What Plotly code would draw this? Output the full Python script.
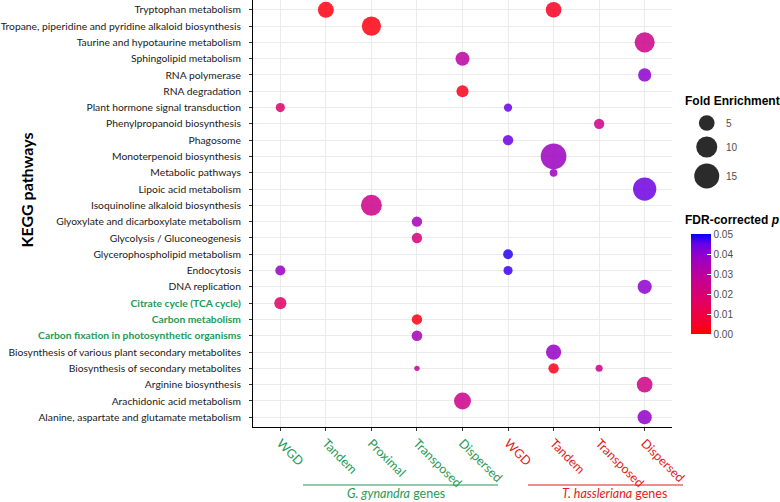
import math
import plotly.graph_objects as go

# ---------------- data ----------------
pathways = [
    "Tryptophan metabolism",
    "Tropane, piperidine and pyridine alkaloid biosynthesis",
    "Taurine and hypotaurine metabolism",
    "Sphingolipid metabolism",
    "RNA polymerase",
    "RNA degradation",
    "Plant hormone signal transduction",
    "Phenylpropanoid biosynthesis",
    "Phagosome",
    "Monoterpenoid biosynthesis",
    "Metabolic pathways",
    "Lipoic acid metabolism",
    "Isoquinoline alkaloid biosynthesis",
    "Glyoxylate and dicarboxylate metabolism",
    "Glycolysis / Gluconeogenesis",
    "Glycerophospholipid metabolism",
    "Endocytosis",
    "DNA replication",
    "Citrate cycle (TCA cycle)",
    "Carbon metabolism",
    "Carbon fixation in photosynthetic organisms",
    "Biosynthesis of various plant secondary metabolites",
    "Biosynthesis of secondary metabolites",
    "Arginine biosynthesis",
    "Arachidonic acid metabolism",
    "Alanine, aspartate and glutamate metabolism",
]
highlighted = ["Citrate cycle (TCA cycle)", "Carbon metabolism",
               "Carbon fixation in photosynthetic organisms"]

groups = ["Gg WGD", "Gg Tandem", "Gg Proximal", "Gg Transposed", "Gg Dispersed",
          "Th WGD", "Th Tandem", "Th Transposed", "Th Dispersed"]
group_labels = ["WGD", "Tandem", "Proximal", "Transposed", "Dispersed",
                "WGD", "Tandem", "Transposed", "Dispersed"]
group_species = ["G", "G", "G", "G", "G", "T", "T", "T", "T"]

point_pathway = [
    "Tryptophan metabolism", "Tryptophan metabolism",
    "Tropane, piperidine and pyridine alkaloid biosynthesis",
    "Taurine and hypotaurine metabolism",
    "Sphingolipid metabolism",
    "RNA polymerase",
    "RNA degradation",
    "Plant hormone signal transduction", "Plant hormone signal transduction",
    "Phenylpropanoid biosynthesis",
    "Phagosome",
    "Monoterpenoid biosynthesis",
    "Metabolic pathways",
    "Lipoic acid metabolism",
    "Isoquinoline alkaloid biosynthesis",
    "Glyoxylate and dicarboxylate metabolism",
    "Glycolysis / Gluconeogenesis",
    "Glycerophospholipid metabolism",
    "Endocytosis", "Endocytosis",
    "DNA replication",
    "Citrate cycle (TCA cycle)",
    "Carbon metabolism",
    "Carbon fixation in photosynthetic organisms",
    "Biosynthesis of various plant secondary metabolites",
    "Biosynthesis of secondary metabolites", "Biosynthesis of secondary metabolites",
    "Biosynthesis of secondary metabolites",
    "Arginine biosynthesis",
    "Arachidonic acid metabolism",
    "Alanine, aspartate and glutamate metabolism",
]
point_group = [
    "Gg Tandem", "Th Tandem",
    "Gg Proximal",
    "Th Dispersed",
    "Gg Dispersed",
    "Th Dispersed",
    "Gg Dispersed",
    "Gg WGD", "Th WGD",
    "Th Transposed",
    "Th WGD",
    "Th Tandem",
    "Th Tandem",
    "Th Dispersed",
    "Gg Proximal",
    "Gg Transposed",
    "Gg Transposed",
    "Th WGD",
    "Gg WGD", "Th WGD",
    "Th Dispersed",
    "Gg WGD",
    "Gg Transposed",
    "Gg Transposed",
    "Th Tandem",
    "Gg Transposed", "Th Tandem",
    "Th Transposed",
    "Th Dispersed",
    "Gg Dispersed",
    "Th Dispersed",
]
point_fold = [5.2, 5.0, 8.1, 8.9, 3.9, 3.4, 2.8, 1.7, 1.5, 2.1, 2.1, 16.0, 1.4, 12.7,
              9.9, 2.1, 2.1, 1.9, 2.0, 1.7, 4.0, 2.8, 2.1, 2.2, 4.7, 1.2, 2.1, 1.3,
              5.0, 6.0, 4.0]
point_fdr = [0.002, 0.004, 0.002, 0.025, 0.030, 0.040, 0.003, 0.018, 0.045, 0.025,
             0.044, 0.037, 0.037, 0.044, 0.025, 0.035, 0.021, 0.048, 0.038, 0.047,
             0.040, 0.017, 0.002, 0.035, 0.038, 0.026, 0.003, 0.025, 0.024, 0.025,
             0.039]

size_legend_values = [5, 10, 15]
fdr_ticks = [0.00, 0.01, 0.02, 0.03, 0.04, 0.05]

# ---------------- styles ----------------
GREEN = "#1F9A56"
RED = "#E41A1C"
LABEL_FONT = "Lato"
D_MIN, D_MAX = 5.4, 25.7  # px diameter range (like ggplot scale_size range)
VMIN, VMAX = min(point_fold), max(point_fold)


def size_scale(v):
    s = math.sqrt(max(v - VMIN, 0) / (VMAX - VMIN))
    return D_MIN + (D_MAX - D_MIN) * s


def lab_to_hex(L, a, b):
    fy = (L + 16) / 116
    fx = fy + a / 500
    fz = fy - b / 200

    def finv(t):
        return t ** 3 if t > 6 / 29 else 3 * (6 / 29) ** 2 * (t - 4 / 29)
    X, Y, Z = 0.95047 * finv(fx), finv(fy), 1.08883 * finv(fz)
    r = 3.2406 * X - 1.5372 * Y - 0.4986 * Z
    g = -0.9689 * X + 1.8758 * Y + 0.0415 * Z
    bb = 0.0557 * X - 0.2040 * Y + 1.0570 * Z

    def gam(c):
        c = min(max(c, 0), 1)
        return 12.92 * c if c <= 0.0031308 else 1.055 * c ** (1 / 2.4) - 0.055
    return "#%02X%02X%02X" % tuple(round(gam(c) * 255) for c in (r, g, bb))


LAB_RED = (53.24, 80.09, 67.20)
LAB_BLUE = (32.30, 79.19, -107.86)
colorscale = []
for i in range(11):
    t = i / 10
    L = LAB_RED[0] + (LAB_BLUE[0] - LAB_RED[0]) * t
    A = LAB_RED[1] + (LAB_BLUE[1] - LAB_RED[1]) * t
    B = LAB_RED[2] + (LAB_BLUE[2] - LAB_RED[2]) * t
    colorscale.append([t, lab_to_hex(L, A, B)])

# pixel helpers for the paper space (margin l=253, paper width 527, height 427)
L_M, PW, PH = 253, 527, 427


def px_x(px):
    return (px - L_M) / PW


def px_y(py):
    return (PH - py) / PH


fig = go.Figure()

fig.add_trace(go.Scatter(
    x=point_group, y=point_pathway, mode="markers",
    marker=dict(
        size=[size_scale(v) for v in point_fold], sizemode="diameter",
        color=point_fdr, colorscale=colorscale, cmin=0, cmax=0.05,
        opacity=0.85, line=dict(width=0),
        colorbar=dict(
            x=px_x(691), xanchor="left", y=px_y(284), yanchor="middle",
            len=100, lenmode="pixels", thickness=20, thicknessmode="pixels",
            xpad=0, ypad=0, outlinewidth=0,
            tickvals=fdr_ticks, tickformat=".2f",
            ticks="inside", ticklen=4, tickcolor="white",
            tickfont=dict(family="Liberation Sans", size=10, color="#4D4D4D"),
        ),
    ),
    showlegend=False, hoverinfo="skip",
))

# size legend (separate axes in the right margin)
leg_y = [123, 147, 176]
fig.add_trace(go.Scatter(
    x=[0.305] * 3, y=leg_y, xaxis="x2", yaxis="y2", mode="markers",
    marker=dict(size=[size_scale(v) for v in size_legend_values], sizemode="diameter",
                color="#2B2B2B", opacity=1, line=dict(width=0)),
    showlegend=False, hoverinfo="skip",
))

y_ticktext = []
for p in pathways:
    if p in highlighted:
        y_ticktext.append(f"<span style='color:{GREEN}'><b>{p}</b></span>")
    else:
        y_ticktext.append(p)
x_ticktext = [f"<span style='color:{GREEN if s == 'G' else RED}'>{lab}</span>"
              for lab, s in zip(group_labels, group_species)]

fig.update_layout(
    width=780, height=502,
    margin=dict(l=L_M, r=0, t=0, b=75, autoexpand=False),
    paper_bgcolor="white", plot_bgcolor="white",
    xaxis=dict(
        domain=[0, px_x(672)], automargin=False,
        type="category", categoryorder="array", categoryarray=groups,
        tickvals=groups, ticktext=x_ticktext, tickangle=45,
        range=[-0.6, len(groups) - 0.4],
        showgrid=True, gridcolor="#EBEBEB", gridwidth=1,
        showline=True, linecolor="black", linewidth=1,
        ticks="outside", ticklen=3, tickcolor="#333333",
        tickfont=dict(family=LABEL_FONT, size=12.5), zeroline=False,
    ),
    yaxis=dict(
        automargin=False,
        type="category", categoryorder="array", categoryarray=pathways,
        tickvals=pathways, ticktext=y_ticktext,
        range=[len(pathways) - 0.4, -0.6],
        showgrid=True, gridcolor="#EBEBEB", gridwidth=1,
        showline=True, linecolor="black", linewidth=1,
        ticks="outside", ticklen=3, tickcolor="#333333", ticklabelstandoff=6,
        tickfont=dict(family=LABEL_FONT, size=10.3, color="#1A1A1A"), zeroline=False,
    ),
    xaxis2=dict(domain=[px_x(674.6), 1], range=[0, 1], visible=False, fixedrange=True,
                automargin=False),
    yaxis2=dict(domain=[0, 1], range=[PH, 0], visible=False, fixedrange=True, anchor="x2",
                automargin=False),
)

annotations = [
    dict(text="<b>KEGG pathways</b>", x=px_x(14), y=px_y(190), xref="paper", yref="paper",
         textangle=-90, showarrow=False, font=dict(family=LABEL_FONT, size=16, color="black")),
    dict(text="<b>Fold Enrichment</b>", x=px_x(683), y=px_y(101), xref="paper", yref="paper",
         xanchor="left", yanchor="middle", showarrow=False,
         font=dict(family="Liberation Sans", size=12, color="black")),
    dict(text="<b>FDR-corrected <i>p</i></b>", x=px_x(683), y=px_y(220), xref="paper", yref="paper",
         xanchor="left", yanchor="middle", showarrow=False,
         font=dict(family="Liberation Sans", size=12, color="black")),
    dict(text="<i>G. gynandra</i> genes", x=px_x(396), y=px_y(493), xref="paper", yref="paper",
         xanchor="center", yanchor="middle", showarrow=False,
         font=dict(family=LABEL_FONT, size=12.5, color=GREEN)),
    dict(text="<i>T. hassleriana</i> genes", x=px_x(614), y=px_y(493), xref="paper", yref="paper",
         xanchor="center", yanchor="middle", showarrow=False,
         font=dict(family=LABEL_FONT, size=12.5, color=RED)),
]
for v, yy in zip(size_legend_values, leg_y):
    annotations.append(dict(text=str(v), x=px_x(724), y=px_y(yy), xref="paper", yref="paper",
                            xanchor="left", yanchor="middle", showarrow=False,
                            font=dict(family="Liberation Sans", size=10, color="#4D4D4D")))
fig.update_layout(annotations=annotations)

fig.add_shape(type="line", xref="paper", yref="paper",
              x0=px_x(303), x1=px_x(498), y0=px_y(485), y1=px_y(485),
              line=dict(color=GREEN, width=1))
fig.add_shape(type="line", xref="paper", yref="paper",
              x0=px_x(528), x1=px_x(683), y0=px_y(485), y1=px_y(485),
              line=dict(color=RED, width=1))

fig.write_html("out.html", config={"displayModeBar": False},
               post_script="document.body.style.margin='0';document.body.style.overflow='hidden';")
